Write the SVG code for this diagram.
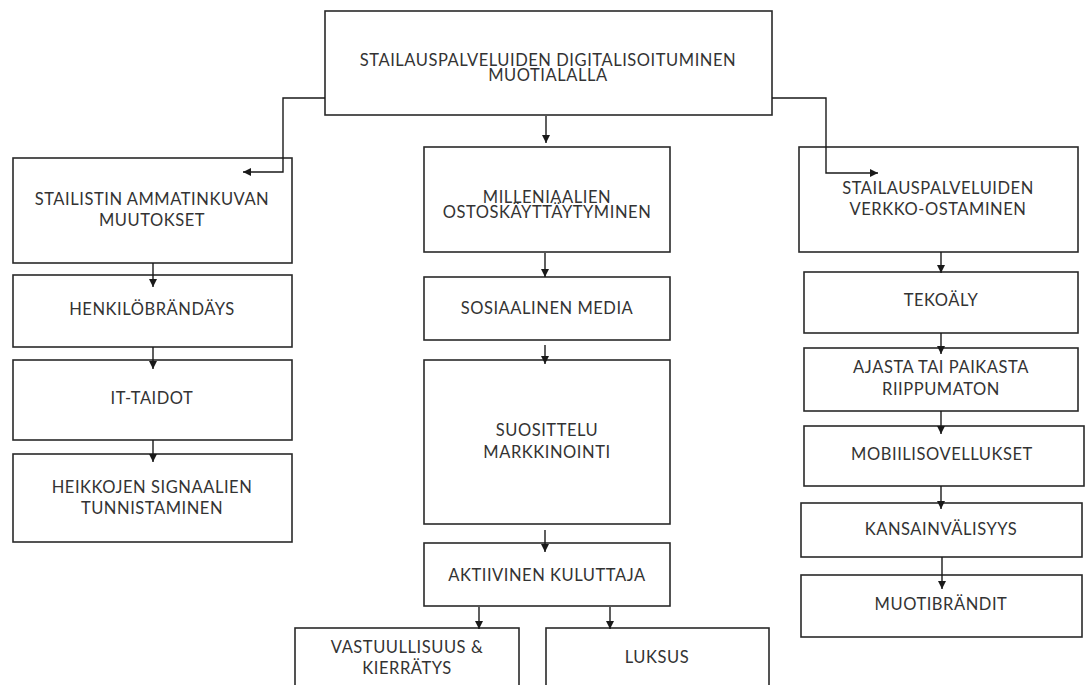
<svg xmlns="http://www.w3.org/2000/svg" width="1086" height="685" viewBox="0 0 1086 685">
<defs>
<marker id="ah" markerUnits="userSpaceOnUse" markerWidth="9" markerHeight="9" refX="8" refY="4" orient="auto">
<path d="M0,0 L8,4 L0,8 z" fill="#1a1a1a"/>
</marker>
<style>
.box{fill:#fff;stroke:#2a2a2a;stroke-width:1.6}
.t{font-family:Lato,"Noto Sans","Liberation Sans",sans-serif;font-size:16.5px;letter-spacing:0.55px;fill:#333;text-anchor:middle}
.c{fill:none;stroke:#1a1a1a;stroke-width:1.4;marker-end:url(#ah)}
</style>
</defs>
<rect width="1086" height="685" fill="#fff"/>
<g id="n-top"><rect class="box" x="325" y="11" width="447" height="104"/>
<text class="t" x="548" y="66">STAILAUSPALVELUIDEN DIGITALISOITUMINEN</text>
<text class="t" x="548" y="81">MUOTIALALLA</text></g>
<g id="n-stailistin"><rect class="box" x="13" y="158" width="279" height="105"/>
<text class="t" x="152" y="205">STAILISTIN AMMATINKUVAN</text>
<text class="t" x="152" y="226">MUUTOKSET</text></g>
<g id="n-henkilo"><rect class="box" x="13" y="275" width="279" height="72"/>
<text class="t" x="152" y="315">HENKILÖBRÄNDÄYS</text></g>
<g id="n-it"><rect class="box" x="13" y="360" width="279" height="80"/>
<text class="t" x="152" y="404">IT-TAIDOT</text></g>
<g id="n-heikko"><rect class="box" x="13" y="454" width="279" height="88"/>
<text class="t" x="152" y="493">HEIKKOJEN SIGNAALIEN</text>
<text class="t" x="152" y="514">TUNNISTAMINEN</text></g>
<g id="n-millen"><rect class="box" x="424" y="147" width="246" height="105"/>
<text class="t" x="547" y="203">MILLENIAALIEN</text>
<text class="t" x="547" y="218">OSTOSKÄYTTÄYTYMINEN</text></g>
<g id="n-some"><rect class="box" x="424" y="277" width="246" height="63"/>
<text class="t" x="547" y="314">SOSIAALINEN MEDIA</text></g>
<g id="n-suos"><rect class="box" x="424" y="360" width="246" height="164"/>
<text class="t" x="547" y="436">SUOSITTELU</text>
<text class="t" x="547" y="458">MARKKINOINTI</text></g>
<g id="n-aktiivinen"><rect class="box" x="424" y="543" width="246" height="63"/>
<text class="t" x="547" y="581">AKTIIVINEN KULUTTAJA</text></g>
<g id="n-vastuu"><rect class="box" x="295" y="628" width="224" height="80"/>
<text class="t" x="407" y="653">VASTUULLISUUS &amp;</text>
<text class="t" x="407" y="674">KIERRÄTYS</text></g>
<g id="n-luksus"><rect class="box" x="546" y="628" width="223" height="80"/>
<text class="t" x="657" y="663">LUKSUS</text></g>
<g id="n-verkko"><rect class="box" x="799" y="147" width="279" height="105"/>
<text class="t" x="938" y="194">STAILAUSPALVELUIDEN</text>
<text class="t" x="938" y="215">VERKKO-OSTAMINEN</text></g>
<g id="n-tekoaly"><rect class="box" x="804" y="272" width="274" height="61"/>
<text class="t" x="941" y="306">TEKOÄLY</text></g>
<g id="n-ajasta"><rect class="box" x="804" y="348" width="274" height="63"/>
<text class="t" x="941" y="373">AJASTA TAI PAIKASTA</text>
<text class="t" x="941" y="395">RIIPPUMATON</text></g>
<g id="n-mobiili"><rect class="box" x="804" y="426" width="280" height="60"/>
<text class="t" x="942" y="460">MOBIILISOVELLUKSET</text></g>
<g id="n-kansain"><rect class="box" x="801" y="503" width="281" height="54"/>
<text class="t" x="941" y="535">KANSAINVÄLISYYS</text></g>
<g id="n-muoti"><rect class="box" x="801" y="575" width="281" height="62"/>
<text class="t" x="941" y="610">MUOTIBRÄNDIT</text></g>
<g id="connectors">
<path class="c" d="M546,116 V143"/>
<path class="c" d="M325,98 H283 V172 H243"/>
<path class="c" d="M772,98 H826 V173 H878"/>
<path class="c" d="M153,263 V287"/>
<path class="c" d="M153,347 V369"/>
<path class="c" d="M153,440 V462"/>
<path class="c" d="M545,253 V277"/>
<path class="c" d="M545,345 V364"/>
<path class="c" d="M545,530 V552"/>
<path class="c" d="M479,607 V629"/>
<path class="c" d="M610,607 V629"/>
<path class="c" d="M941,252 V273"/>
<path class="c" d="M941,333 V354"/>
<path class="c" d="M941,411 V434"/>
<path class="c" d="M941,486 V509"/>
<path class="c" d="M942,557 V589"/>
</g>
</svg>
